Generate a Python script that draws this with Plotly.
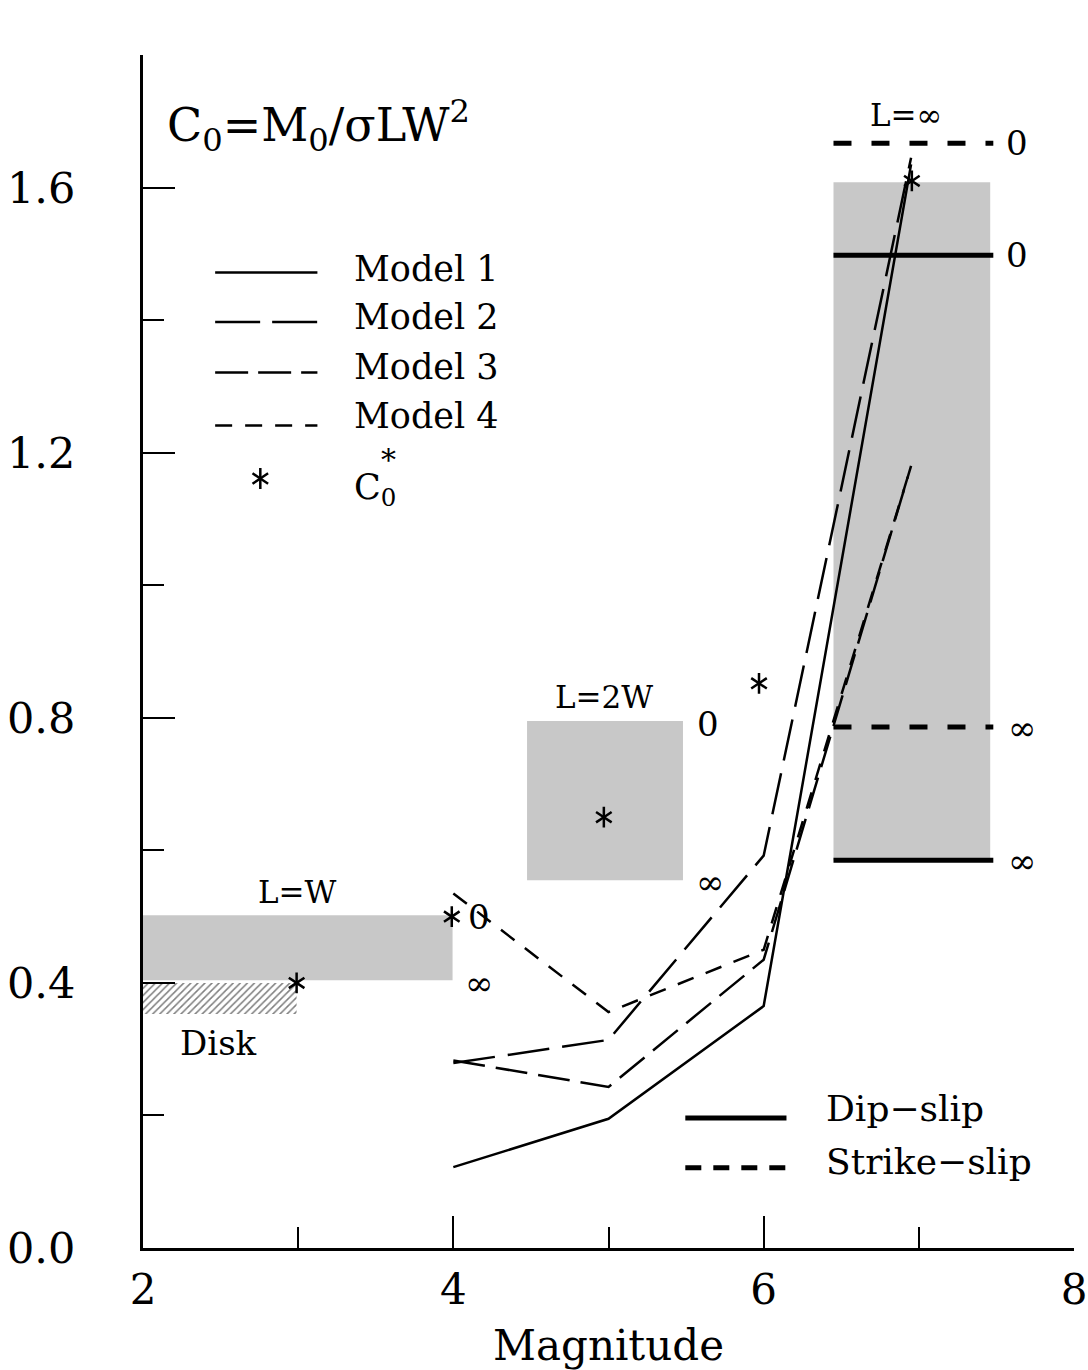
import plotly.graph_objects as go

# ---------------- data ----------------
mag = [4, 5, 6, 6.95]
model1 = [0.122, 0.195, 0.365, 1.635]
model2 = [0.279, 0.314, 0.592, 1.645]
model3 = [0.283, 0.243, 0.435, 1.18]
model4 = [0.535, 0.356, 0.450, 1.18]

cstar_mag = [2.99, 3.99, 4.97, 5.97, 6.955]
cstar_val = [0.40, 0.50, 0.65, 0.852, 1.61]

box_labels = ["L=W", "L=2W", "L=∞"]
box_x0 = [2.0, 4.475, 6.45]
box_x1 = [3.995, 5.48, 7.46]
box_y0 = [0.404, 0.555, 0.585]
box_y1 = [0.502, 0.795, 1.608]

disk_x = [2.0, 2.99]
disk_y = [0.353, 0.40]

inf_x = [6.45, 7.48]
dip_slip = [1.498, 0.585]      # h0/W = 0, inf
strike_slip = [1.667, 0.786]   # h0/W = 0, inf

x_ticks = [2, 4, 6, 8]
y_ticks = [0.0, 0.4, 0.8, 1.2, 1.6]
y_ticktext = ["0.0", "0.4", "0.8", "1.2", "1.6"]

FONT = "DejaVu Serif"
fig = go.Figure()

# stippled boxes
for x0, x1, y0, y1 in zip(box_x0, box_x1, box_y0, box_y1):
    fig.add_trace(go.Scatter(x=[x0, x1, x1, x0, x0], y=[y0, y0, y1, y1, y0],
                             mode="lines", fill="toself", fillcolor="rgb(200,200,200)",
                             line=dict(width=0), hoverinfo="skip"))

# hatched disk
fig.add_trace(go.Scatter(x=[disk_x[0], disk_x[1], disk_x[1], disk_x[0], disk_x[0]],
                         y=[disk_y[0], disk_y[0], disk_y[1], disk_y[1], disk_y[0]],
                         mode="lines", fill="toself", fillcolor="white",
                         fillpattern=dict(shape="/", fgcolor="black", bgcolor="white",
                                          size=5, solidity=0.3),
                         line=dict(width=0), hoverinfo="skip"))

# L=inf limits
for v in dip_slip:
    fig.add_trace(go.Scatter(x=inf_x, y=[v, v], mode="lines",
                             line=dict(color="black", width=5)))
for v in strike_slip:
    fig.add_trace(go.Scatter(x=inf_x, y=[v, v], mode="lines",
                             line=dict(color="black", width=5, dash="18px,20px")))

# model curves
styles = ["solid", "42px,13px", "32px,11px", "17px,13px"]
for d, ys in zip(styles, [model1, model2, model3, model4]):
    fig.add_trace(go.Scatter(x=mag, y=ys, mode="lines",
                             line=dict(color="black", width=2.5, dash=d)))

# C0* stars
for sym in ["y-up-open", "y-down-open"]:
    fig.add_trace(go.Scatter(x=cstar_mag, y=cstar_val, mode="markers",
                             marker=dict(symbol=sym, size=13, color="black",
                                         line=dict(color="black", width=2.5))))

# ---- legend (upper left) ----
leg_x = [2.465, 3.124]
leg_y = [1.472, 1.397, 1.321, 1.241]
leg_dash = ["solid", "45px,12px", "33px,10px", "17px,13px"]
leg_text = ["Model 1", "Model 2", "Model 3", "Model 4"]
for y, d in zip(leg_y, leg_dash):
    fig.add_trace(go.Scatter(x=leg_x, y=[y, y], mode="lines",
                             line=dict(color="black", width=2.5, dash=d)))
for sym in ["y-up-open", "y-down-open"]:
    fig.add_trace(go.Scatter(x=[2.756], y=[1.161], mode="markers",
                             marker=dict(symbol=sym, size=13, color="black",
                                         line=dict(color="black", width=2.5))))

# ---- legend (lower right) ----
fig.add_trace(go.Scatter(x=[5.495, 6.147], y=[0.196, 0.196], mode="lines",
                         line=dict(color="black", width=5)))
fig.add_trace(go.Scatter(x=[5.495, 6.147], y=[0.121, 0.121], mode="lines",
                         line=dict(color="black", width=5, dash="16px,12px")))

ann = []
def txt(x, y, s, size, xanchor="center", yanchor="middle", xref="x", yref="y"):
    ann.append(dict(x=x, y=y, text=s, showarrow=False, xref=xref, yref=yref,
                    xanchor=xanchor, yanchor=yanchor,
                    font=dict(family=FONT, size=size, color="black")))

for t, y in zip(leg_text, [1.477, 1.404, 1.330, 1.255]):
    txt(3.35, y, t, 35, xanchor="left")
txt(3.35, 1.145, "C<sub>0</sub>", 35, xanchor="left")
txt(3.58, 1.19, "*", 30, xanchor="center")

txt(6.386, 0.211, "Dip−slip", 36, xanchor="left")
txt(6.386, 0.131, "Strike−slip", 36, xanchor="left")

txt(2.142, 1.694, "C<sub>0</sub>=M<sub>0</sub>/σLW<sup>2</sup>", 46, xanchor="left")
txt(7.65, 1.835, "h<sub>0</sub>/W=", 36)

txt(2.995, 0.537, box_labels[0], 31)
txt(4.97, 0.831, box_labels[1], 31)
txt(6.92, 1.709, box_labels[2], 31)
txt(2.485, 0.309, "Disk", 34)

# h0/W labels
txt(4.165, 0.50, "0", 34)
txt(4.165, 0.40, "∞", 34)
txt(5.64, 0.79, "0", 34)
txt(5.655, 0.552, "∞", 34)
txt(7.63, 1.667, "0", 34)
txt(7.63, 1.498, "0", 34)
txt(7.665, 0.784, "∞", 34)
txt(7.665, 0.584, "∞", 34)

fig.update_layout(
    width=1088, height=1370,
    margin=dict(l=143, r=14, t=55, b=122),
    paper_bgcolor="white", plot_bgcolor="white",
    showlegend=False,
    annotations=ann,
    font=dict(family=FONT, color="black"),
    xaxis=dict(range=[2, 8], showgrid=False, zeroline=False, automargin=False,
               showline=True, linecolor="black", linewidth=3,
               ticks="inside", ticklen=32, tickwidth=2, tickcolor="black",
               tickvals=x_ticks, ticktext=[str(v) for v in x_ticks],
               tickfont=dict(family=FONT, size=42), ticklabelstandoff=3,
               minor=dict(dtick=1, ticks="inside", ticklen=21, tickwidth=2,
                          tickcolor="black", showgrid=False),
               title=dict(text="Magnitude", font=dict(family=FONT, size=42), standoff=18)),
    yaxis=dict(range=[0, 1.8], showgrid=False, zeroline=False, automargin=False,
               showline=True, linecolor="black", linewidth=3,
               ticks="inside", ticklen=32, tickwidth=2, tickcolor="black",
               tickvals=y_ticks, ticktext=y_ticktext,
               tickfont=dict(family=FONT, size=43), ticklabelstandoff=56,
               minor=dict(dtick=0.2, ticks="inside", ticklen=21, tickwidth=2,
                          tickcolor="black", showgrid=False)),
)

fig.write_html("out.html")
